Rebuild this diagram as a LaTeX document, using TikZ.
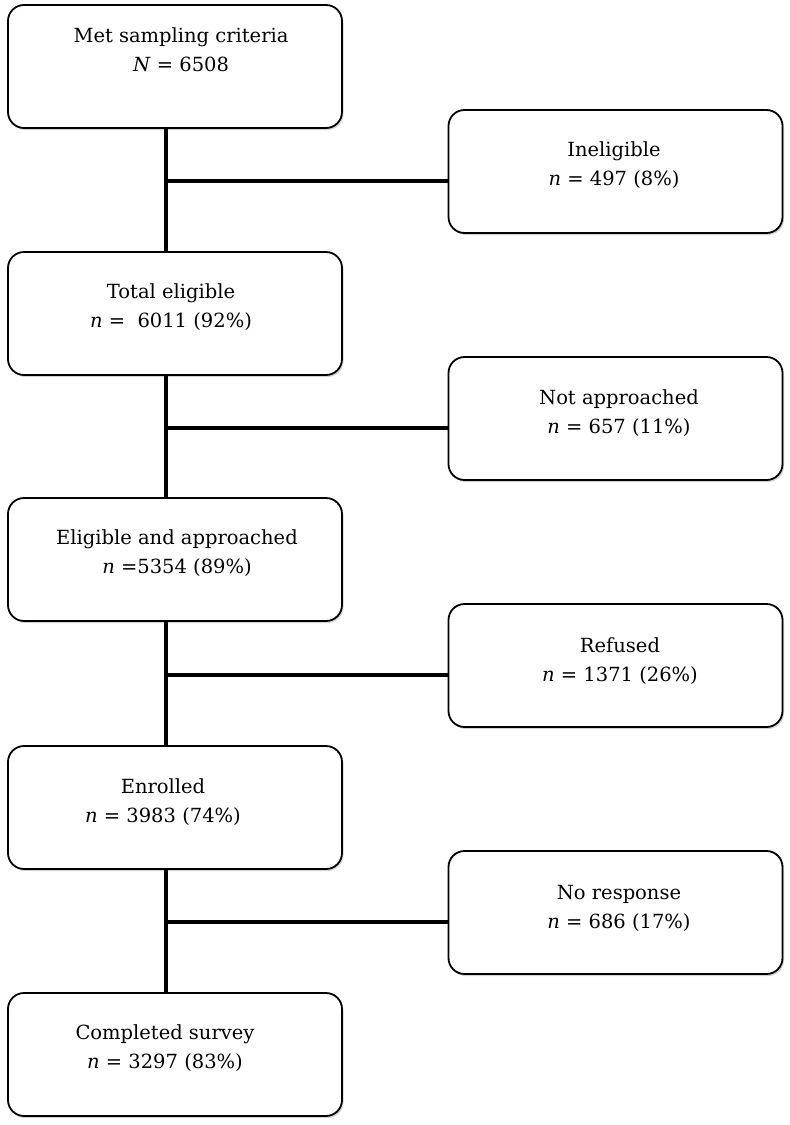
\documentclass[tikz,border=0pt]{standalone}
\usepackage{fontspec}
\setmainfont{DejaVu Serif}
\usetikzlibrary{shadows}
\begin{document}
\begin{tikzpicture}[x=1pt,y=-1pt,
  box/.style={draw=black, line width=1.8pt, rounded corners=16pt, fill=white,
    minimum width=334pt, minimum height=123pt, inner sep=0pt,
    drop shadow={shadow xshift=1.5pt, shadow yshift=-2pt, opacity=0.35}},
  txt/.style={align=center, font=\fontsize{19.5}{28.5}\selectfont, inner sep=0pt, anchor=base},
  conn/.style={line width=4.5pt}]
\useasboundingbox (0,0) rectangle (790,1125);
\coordinate (v) at (166,0);
% left boxes
\node[box] (l1) at (175,66.5) {};
\node[box] (l2) at (175,313.5) {};
\node[box] (l3) at (175,559.5) {};
\node[box] (l4) at (175,807.5) {};
\node[box] (l5) at (175,1054.5) {};
% right boxes
\node[box] (r1) at (615.5,171.5) {};
\node[box] (r2) at (615.5,418.5) {};
\node[box] (r3) at (615.5,665.5) {};
\node[box] (r4) at (615.5,912.5) {};
% connectors
\foreach \a/\b in {l1/l2,l2/l3,l3/l4,l4/l5}
  \draw[conn] (\a.south -| v) -- (\b.north -| v);
\foreach \r in {r1,r2,r3,r4}
  \draw[conn] ([yshift=-9.5pt]\r.west) -- ([yshift=-9.5pt]\r.west -| v);
% texts (anchored at the baseline of the last line)
\node[txt] (t1) at (181,71) {Met sampling criteria\\\textit{N} = 6508};
\node[txt] (t2) at (171,327) {Total eligible\\\textit{n} =\ \ 6011 (92\%)};
\node[txt] (t3) at (177,573) {Eligible and approached\\\textit{n} =5354 (89\%)};
\node[txt] (t4) at (163,822) {Enrolled\\\textit{n} = 3983 (74\%)};
\node[txt] (t5) at (165,1068) {Completed survey\\\textit{n} = 3297 (83\%)};
\node[txt] (s1) at (614,185) {Ineligible\\\textit{n} = 497 (8\%)};
\node[txt] (s2) at (619,433) {Not approached\\\textit{n} = 657 (11\%)};
\node[txt] (s3) at (620,681) {Refused\\\textit{n} = 1371 (26\%)};
\node[txt] (s4) at (619,928) {No response\\\textit{n} = 686 (17\%)};
\end{tikzpicture}
\end{document}
